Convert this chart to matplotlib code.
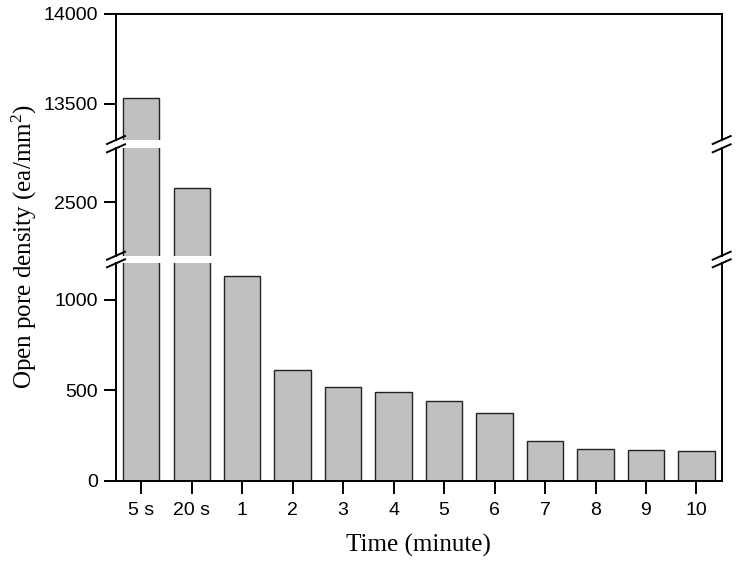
import numpy as np
import matplotlib
matplotlib.use("Agg")
import matplotlib.pyplot as plt

# data
times = ['5 s', '20 s', '1', '2', '3', '4', '5', '6', '7', '8', '9', '10']
density = [13535, 2580, 1130, 613, 517, 487, 441, 373, 221, 177, 172, 166]

# y ranges of the three broken-axis segments (bottom, middle, top)
seg_limits = [(0, 1200), (2200, 2800), (13300, 14000)]
seg_ticks = [[0, 500, 1000], [2500], [13500, 14000]]

SANS = 'Liberation Sans'
SERIF = 'Liberation Serif'
plt.rcParams['mathtext.fontset'] = 'custom'
plt.rcParams['mathtext.rm'] = SERIF
plt.rcParams['mathtext.it'] = SERIF + ':italic'

W, H = 738, 561
fig = plt.figure(figsize=(W / 100, H / 100), dpi=100)

# axes boxes in pixels (top edge y, bottom edge y)
left_px, right_px = 116, 721.7
seg_px = [(263.3, 480.7), (148.3, 255.7), (14, 140)]

BAR_FC = '#c0c0c0'
BAR_EC = '#222222'
LW = 1.4

x = np.arange(len(times))
for i, ((top, bot), lim, ticks) in enumerate(zip(seg_px, seg_limits, seg_ticks)):
    ax = fig.add_axes([left_px / W, 1 - bot / H, (right_px - left_px) / W, (bot - top) / H])
    ax.bar(x, density, width=0.72, color=BAR_FC, edgecolor=BAR_EC, linewidth=1.0)
    ax.set_ylim(*lim)
    ax.set_xlim(-0.5, len(times) - 0.5)
    ax.set_yticks(ticks)
    ax.set_yticklabels([str(t) for t in ticks], fontfamily=SANS, fontsize=14)
    ax.tick_params(axis='y', direction='out', length=9, width=LW, pad=4)
    for s in ax.spines.values():
        s.set_linewidth(LW)
    ax.spines['top'].set_visible(i == 2)
    ax.spines['bottom'].set_visible(i == 0)
    if i == 0:
        ax.set_xticks(x)
        ax.set_xticklabels(times, fontfamily=SANS, fontsize=14)
        ax.tick_params(axis='x', direction='out', length=9, width=LW, pad=6)
        ax.set_xlabel('Time (minute)', fontfamily=SERIF, fontsize=18, labelpad=11)
    else:
        ax.set_xticks([])

# break marks on both spines
dx, dy = 9 / W, 4 / H
for lower, upper in [(seg_px[0], seg_px[1]), (seg_px[1], seg_px[2])]:
    for y_px in (lower[0], upper[1]):
        yf = 1 - y_px / H
        for x_px in (left_px, right_px):
            xf = x_px / W
            fig.add_artist(plt.Line2D([xf - dx, xf + dx], [yf - dy, yf + dy],
                                      transform=fig.transFigure, color='black', lw=LW))

fig.text(24 / W, 1 - 247 / H, 'Open pore density (ea/mm$^2$)', rotation=90,
         ha='center', va='center', fontfamily=SERIF, fontsize=18)

fig.savefig('out.png', dpi=100)
